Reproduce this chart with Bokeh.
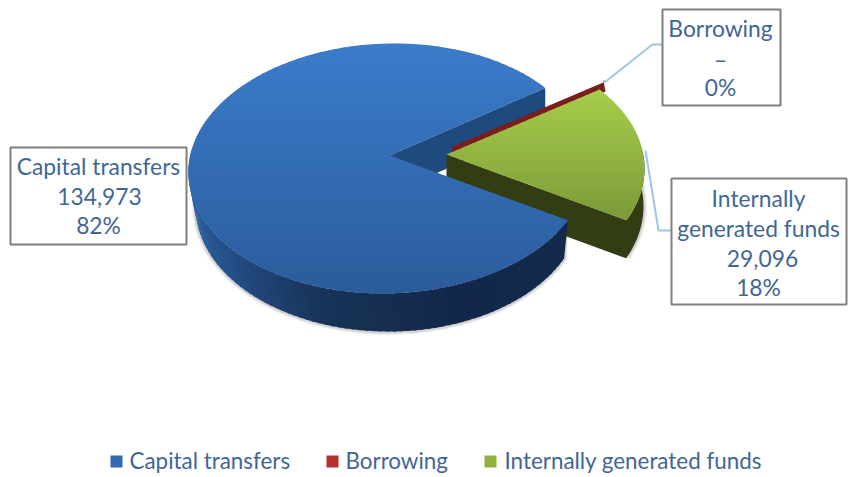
import math
from bokeh.core.properties import value
from bokeh.embed import file_html
from bokeh.models import Range1d
from bokeh.plotting import figure
from bokeh.resources import INLINE

# Budget sources
categories = ["Capital transfers", "Borrowing", "Internally generated funds"]
amounts = [134973, 450, 29096]
amount_labels = ["134,973", "–", "29,096"]
percent_labels = ["82%", "0%", "18%"]

TEXT = "#3f6696"
FONT = value("Lato")
CX, CY, RX, RY = 388, 168, 200, 125      # top ellipse of the pie
BOT_RX, DEPTH = 193, 38                  # base ellipse and extrusion
APEX_DX, APEX_DY = 2, -14                # perspective shift of the wedge tip
SHEAR = 6                                # lean of the main slice's top face
START = -24.5                            # first slice edge, sweeping clockwise
OFFSETS = [(0, 0), (62, -8), (56, 0)]    # slice explosion
GREEN_BASE_SHIFT = 6                     # base of the pulled-out slice


def mix(a, b, f):
    ca = [int(a[i:i + 2], 16) for i in (1, 3, 5)]
    cb = [int(b[i:i + 2], 16) for i in (1, 3, 5)]
    return "#%02x%02x%02x" % tuple(round(x + (y - x) * f) for x, y in zip(ca, cb))


def ramp(stops, t):
    for (t0, c0), (t1, c1) in zip(stops, stops[1:]):
        if t <= t1:
            return mix(c0, c1, max(0, (t - t0) / (t1 - t0)))
    return stops[-1][1]


def top_pt(t, dx=0, dy=0):
    a = math.radians(t)
    lean = SHEAR * math.sin(a) if dx == 0 else 0
    return CX + dx + lean + RX * math.cos(a), CY + dy - RY * math.sin(a)


def base_pt(t, dx=0, dy=0, grow=0):
    a = math.radians(t)
    return (CX + dx + (BOT_RX + grow) * math.cos(a),
            CY + dy + DEPTH - (RY + grow) * math.sin(a))


def arc(t0, t1, n, fn, *args):
    return [fn(t0 + (t1 - t0) * i / n, *args) for i in range(n + 1)]


def band(poly, y0, y1):
    # Clip a polygon to a horizontal band
    def clip(points, keep, cross):
        out = []
        for i, p in enumerate(points):
            q = points[i - 1]
            if keep(p) != keep(q):
                out.append(cross(q, p))
            if keep(p):
                out.append(p)
        return out

    def at(level):
        return lambda a, b: (a[0] + (b[0] - a[0]) * (level - a[1]) / (b[1] - a[1]), level)

    res = clip(poly, lambda p: p[1] >= y0, at(y0))
    return clip(res, lambda p: p[1] <= y1, at(y1)) if res else []


p = figure(width=848, height=477, output_backend="svg", toolbar_location=None,
           x_range=Range1d(0, 848), y_range=Range1d(477, 0),
           x_axis_location=None, y_axis_location=None, min_border=0,
           outline_line_color=None, background_fill_color="white",
           border_fill_color="white")
p.grid.visible = False


def fill(poly, color, alpha=1.0):
    p.patch([q[0] for q in poly], [q[1] for q in poly], fill_color=color,
            fill_alpha=alpha, line_color=None)


def shaded_top(poly, y_top, y_bottom, c_top, c_bottom, step=3):
    # Vertical shading built from overlapping horizontal bands
    y = y_top
    while y < y_bottom:
        piece = band(poly, y, y + step + 1.2)
        if piece:
            fill(piece, mix(c_top, c_bottom, (y - y_top) / (y_bottom - y_top)))
        y += step


# Slice edges in ellipse angle, derived from the amounts
total = sum(amounts)
spans = [a / total * 360 for a in amounts]
blue_start = START - spans[0]            # same edge as +360 round the back
red_start = blue_start - spans[1]
green_start = red_start - spans[2]
blue_t0, blue_t1 = blue_start + 360, START + 360
red_t0, red_t1 = red_start + 360, blue_start + 360
green_t0, green_t1 = START, red_start + 360

blue_wall = [(190, "#2e609f"), (215, "#25508a"), (250, "#183458"), (290, "#12274a"), (340, "#142b4e")]
green_dx = OFFSETS[2][0]

# Soft contact shadow beneath the rims
for grow, alpha in ((3.5, 0.10), (2, 0.18)):
    rim = arc(175, blue_t1, 70, base_pt, 0, 0, grow)
    fill(arc(175, blue_t1, 70, top_pt) + rim[::-1], "#555555", alpha)
    rim = arc(green_t0, 8, 24, base_pt, green_dx + GREEN_BASE_SHIFT, 0, grow)
    fill(arc(green_t0, 8, 24, top_pt, green_dx, 0) + rim[::-1], "#555555", alpha)

# Capital transfers: inner cut wall behind the gap
tip = (CX + APEX_DX - 1, CY + APEX_DY + 1)
corner = top_pt(blue_t0)
fill([tip, corner, (corner[0], corner[1] + DEPTH), (tip[0], tip[1] + DEPTH)], "#1f4a7d")

# Borrowing: a thin sliver
dx, dy = OFFSETS[1]
red_tip = (CX + dx + APEX_DX, CY + dy + APEX_DY)
red_top = arc(red_t0, red_t1, 3, top_pt, dx, dy)
fill([red_tip] + red_top + [(red_top[0][0], red_top[0][1] + 10), (red_tip[0], red_tip[1] + 10)], "#7a1d1c")

# Internally generated funds: walls as one outline, then the top face
dx, dy = OFFSETS[2]
green_tip = (CX + dx + APEX_DX, CY + dy + APEX_DY)
green_top_rim = arc(green_t0, 8, 24, top_pt, dx, dy)
green_base_rim = arc(green_t0, 8, 24, base_pt, dx + GREEN_BASE_SHIFT, dy)
fill([green_tip] + green_top_rim + green_base_rim[::-1] + [(green_tip[0], green_tip[1] + DEPTH)], "#323d14")
green_poly = [green_tip] + arc(green_t0, green_t1, 40, top_pt, dx, dy)
shaded_top(green_poly, 86, 220, "#a7ce4b", "#7a9a38")

# Capital transfers: outer wall, then the top face
n_wall = 80
for i in range(n_wall):
    t0 = 170 + (blue_t1 - 170) * i / n_wall
    t1 = 170 + (blue_t1 - 170) * (i + 1.4) / n_wall
    t1 = min(t1, blue_t1)
    fill([top_pt(t0), top_pt(t1), base_pt(t1), base_pt(t0)], ramp(blue_wall, t0))
blue_poly = [tip] + arc(blue_t0, blue_t1, 160, top_pt)
shaded_top(blue_poly, 43, 293, "#3b7ccb", "#2b5c9b")

# Leader lines
p.line([604, 652, 662], [82, 44, 44], line_color="#9fc4ea", line_width=2)
p.line([645, 658, 671], [150, 230, 230], line_color="#9fc4ea", line_width=2)

# Label boxes
boxes_left = [10, 662, 671]
boxes_right = [186, 780, 846]
boxes_top = [147, 9, 178]
boxes_bottom = [244, 105, 304]
p.quad(left=boxes_left, right=boxes_right, top=boxes_top, bottom=boxes_bottom,
       fill_color="white", line_color="#7f7f7f", line_width=2)

lines_x = [98, 99, 98, 720, 720, 720, 758, 758, 762, 758]
lines_y = [165.5, 195.5, 224.5, 27.5, 58.5, 86.5, 197.5, 227.5, 257.5, 286.5]
lines_t = [categories[0], amount_labels[0], percent_labels[0],
           categories[1], amount_labels[1], percent_labels[1],
           "Internally", "generated funds", amount_labels[2], percent_labels[2]]
p.text(lines_x, lines_y, text=lines_t, text_color=TEXT, text_font=FONT,
       text_font_size="22.8px", text_align="center", text_baseline="middle")

# Legend
legend_x = [110, 326, 484]
legend_text_x = [129, 345, 504]
legend_colors = ["#2f6ab3", "#b52f2d", "#91b23c"]
p.quad(left=legend_x, right=[x + 12 for x in legend_x], top=[455] * 3, bottom=[467] * 3,
       fill_color=legend_colors, line_color=None)
p.text(legend_text_x, [460] * 3, text=categories, text_color=TEXT, text_font=FONT,
       text_font_size="22.4px", text_align="left", text_baseline="middle")

open("out.html", "w").write(file_html(p, INLINE))
